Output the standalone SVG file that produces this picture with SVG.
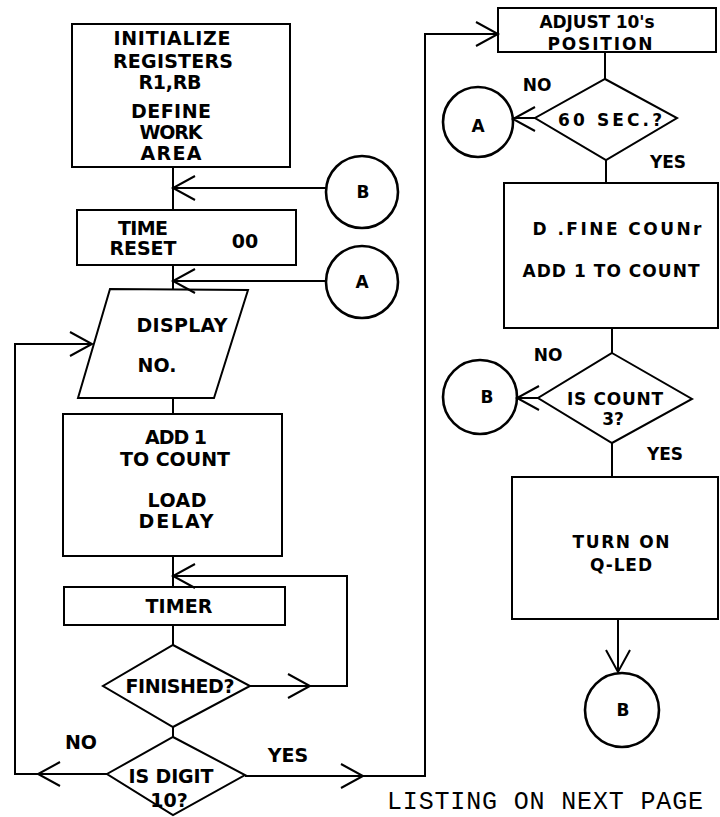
<svg xmlns="http://www.w3.org/2000/svg" xmlns:xlink="http://www.w3.org/1999/xlink" width="720" height="817" viewBox="0 0 720 817">
<style>
  .s{fill:none;stroke:#000;stroke-width:2;stroke-linejoin:miter}
  .c{fill:none;stroke:#000;stroke-width:2.6}
  .t{font-family:"DejaVu Sans","Liberation Sans",Arial,sans-serif;font-weight:bold;fill:#000;text-anchor:middle}
  .L{font-size:19px}
  .R{font-size:17px}
  .m{font-family:"Liberation Mono","Courier New",monospace;font-size:25px;fill:#000}
</style>
<defs>
  <path id="ah" d="M-22,-12 L0,0 L-22,12" fill="none" stroke="#000" stroke-width="2"/>
</defs>
<rect width="720" height="817" fill="#fff"/>

<g id="connectors">
  <path class="s" d="M173,167 V210"/>
  <path class="s" d="M173,265 V289"/>
  <path class="s" d="M173,398 V414"/>
  <path class="s" d="M173,556 V587"/>
  <path class="s" d="M173,625 V645"/>
  <path class="s" d="M173,727 V737"/>
  <path class="s" d="M326,188 H173"/>
  <use xlink:href="#ah" transform="translate(173,188) rotate(180)"/>
  <path class="s" d="M326,281 H173"/>
  <use xlink:href="#ah" transform="translate(173,281) rotate(180)"/>
  <path class="s" d="M250,686 H347 V576 H173"/>
  <use xlink:href="#ah" transform="translate(310,686)"/>
  <use xlink:href="#ah" transform="translate(173,576) rotate(180)"/>
  <path class="s" d="M107,774 H15 V344 H92"/>
  <use xlink:href="#ah" transform="translate(38,774) rotate(180)"/>
  <use xlink:href="#ah" transform="translate(92,344)"/>
  <path class="s" d="M245,776 H425 V34 H498"/>
  <use xlink:href="#ah" transform="translate(363,776)"/>
  <use xlink:href="#ah" transform="translate(498,34)"/>
  <path class="s" d="M605,52 V79"/>
  <path class="s" d="M606,160 V183"/>
  <path class="s" d="M612,328 V353"/>
  <path class="s" d="M612,443 V477"/>
  <path class="s" d="M618,619 V672"/>
  <use xlink:href="#ah" transform="translate(618,672) rotate(90)"/>
  <path class="s" d="M535,118 H513"/>
  <use xlink:href="#ah" transform="translate(513,119) rotate(180)"/>
  <path class="s" d="M538,398 H517"/>
  <use xlink:href="#ah" transform="translate(517,398) rotate(180)"/>
</g>

<g id="n-init">
  <rect class="s" x="72" y="24" width="218" height="143"/>
  <text class="t L" x="172" y="45" textLength="117" lengthAdjust="spacing">INITIALIZE</text>
  <text class="t L" x="173" y="68" textLength="120" lengthAdjust="spacing">REGISTERS</text>
  <text class="t L" x="170" y="89" textLength="63" lengthAdjust="spacing">R1,RB</text>
  <text class="t L" x="171" y="118" textLength="80" lengthAdjust="spacing">DEFINE</text>
  <text class="t L" x="171" y="139" textLength="63" lengthAdjust="spacing">WORK</text>
  <text class="t L" x="171" y="160" textLength="61" lengthAdjust="spacing">AREA</text>
</g>

<g id="n-reset">
  <rect class="s" x="77" y="210" width="219" height="55"/>
  <text class="t L" x="143" y="235" textLength="50" lengthAdjust="spacing">TIME</text>
  <text class="t L" x="143" y="255" textLength="67" lengthAdjust="spacing">RESET</text>
  <text class="t L" x="245" y="248">00</text>
</g>

<g id="n-B1">
  <circle class="c" cx="362" cy="192" r="36"/>
  <text class="t R" x="363" y="198">B</text>
</g>
<g id="n-A1">
  <circle class="c" cx="362" cy="282" r="36"/>
  <text class="t R" x="362" y="288">A</text>
</g>

<g id="n-display">
  <polygon class="s" points="110,289 248,290 214,398 78,398"/>
  <text class="t L" x="182" y="332" textLength="91" lengthAdjust="spacing">DISPLAY</text>
  <text class="t L" x="157" y="372">NO.</text>
</g>

<g id="n-add">
  <rect class="s" x="63" y="414" width="219" height="142"/>
  <text class="t L" x="176" y="444" textLength="62" lengthAdjust="spacing">ADD 1</text>
  <text class="t L" x="175" y="466" textLength="110" lengthAdjust="spacing">TO COUNT</text>
  <text class="t L" x="177" y="507" textLength="59" lengthAdjust="spacing">LOAD</text>
  <text class="t L" x="176" y="528" textLength="75" lengthAdjust="spacing">DELAY</text>
</g>

<g id="n-timer">
  <rect class="s" x="64" y="587" width="221" height="38"/>
  <text class="t L" x="179" y="613" textLength="67" lengthAdjust="spacing">TIMER</text>
</g>

<g id="n-finished">
  <polygon class="s" points="173,645 250,686 173,727 103,686"/>
  <text class="t L" x="180" y="693" textLength="109" lengthAdjust="spacing">FINISHED?</text>
</g>

<g id="n-digit">
  <polygon class="s" points="173,737 245,775 173,815 107,774"/>
  <text class="t L" x="171" y="783" textLength="85" lengthAdjust="spacing">IS DIGIT</text>
  <text class="t L" x="169" y="807">10?</text>
</g>

<g id="labels-left">
  <text class="t L" x="81" y="749">NO</text>
  <text class="t L" x="288" y="762">YES</text>
</g>

<g id="n-adjust">
  <rect class="s" x="498" y="8" width="218" height="44"/>
  <text class="t R" x="597" y="28" textLength="115" lengthAdjust="spacing">ADJUST 10's</text>
  <text class="t R" x="600" y="50" textLength="105" lengthAdjust="spacing">POSITION</text>
</g>

<g id="n-60sec">
  <polygon class="s" points="605,79 677,118 606,160 535,118"/>
  <text class="t R" x="610" y="126" textLength="104" lengthAdjust="spacing">60 SEC.?</text>
  <text class="t R" x="537" y="91">NO</text>
  <text class="t R" x="668" y="168">YES</text>
</g>

<g id="n-A2">
  <circle class="c" cx="478" cy="122" r="35"/>
  <text class="t R" x="478" y="132">A</text>
</g>

<g id="n-define">
  <rect class="s" x="504" y="183" width="214" height="145"/>
  <text class="t R" x="617" y="235" textLength="169" lengthAdjust="spacing">D .FINE COUNr</text>
  <text class="t R" x="611" y="277" textLength="177" lengthAdjust="spacing">ADD 1 TO COUNT</text>
</g>

<g id="n-count3">
  <polygon class="s" points="612,353 692,399 612,443 538,398"/>
  <text class="t R" x="615" y="405" textLength="96" lengthAdjust="spacing">IS COUNT</text>
  <text class="t R" x="613" y="425">3?</text>
  <text class="t R" x="548" y="361">NO</text>
  <text class="t R" x="665" y="460">YES</text>
</g>

<g id="n-B2">
  <circle class="c" cx="480" cy="397" r="37"/>
  <text class="t R" x="487" y="403">B</text>
</g>

<g id="n-turnon">
  <rect class="s" x="512" y="477" width="206" height="142"/>
  <text class="t R" x="621" y="548" textLength="97" lengthAdjust="spacing">TURN ON</text>
  <text class="t R" x="621" y="571" textLength="62" lengthAdjust="spacing">Q-LED</text>
</g>

<g id="n-B3">
  <circle class="c" cx="622" cy="710" r="37"/>
  <text class="t R" x="623" y="716">B</text>
</g>

<text class="m" x="387" y="809" textLength="316" lengthAdjust="spacing">LISTING ON NEXT PAGE</text>
</svg>
